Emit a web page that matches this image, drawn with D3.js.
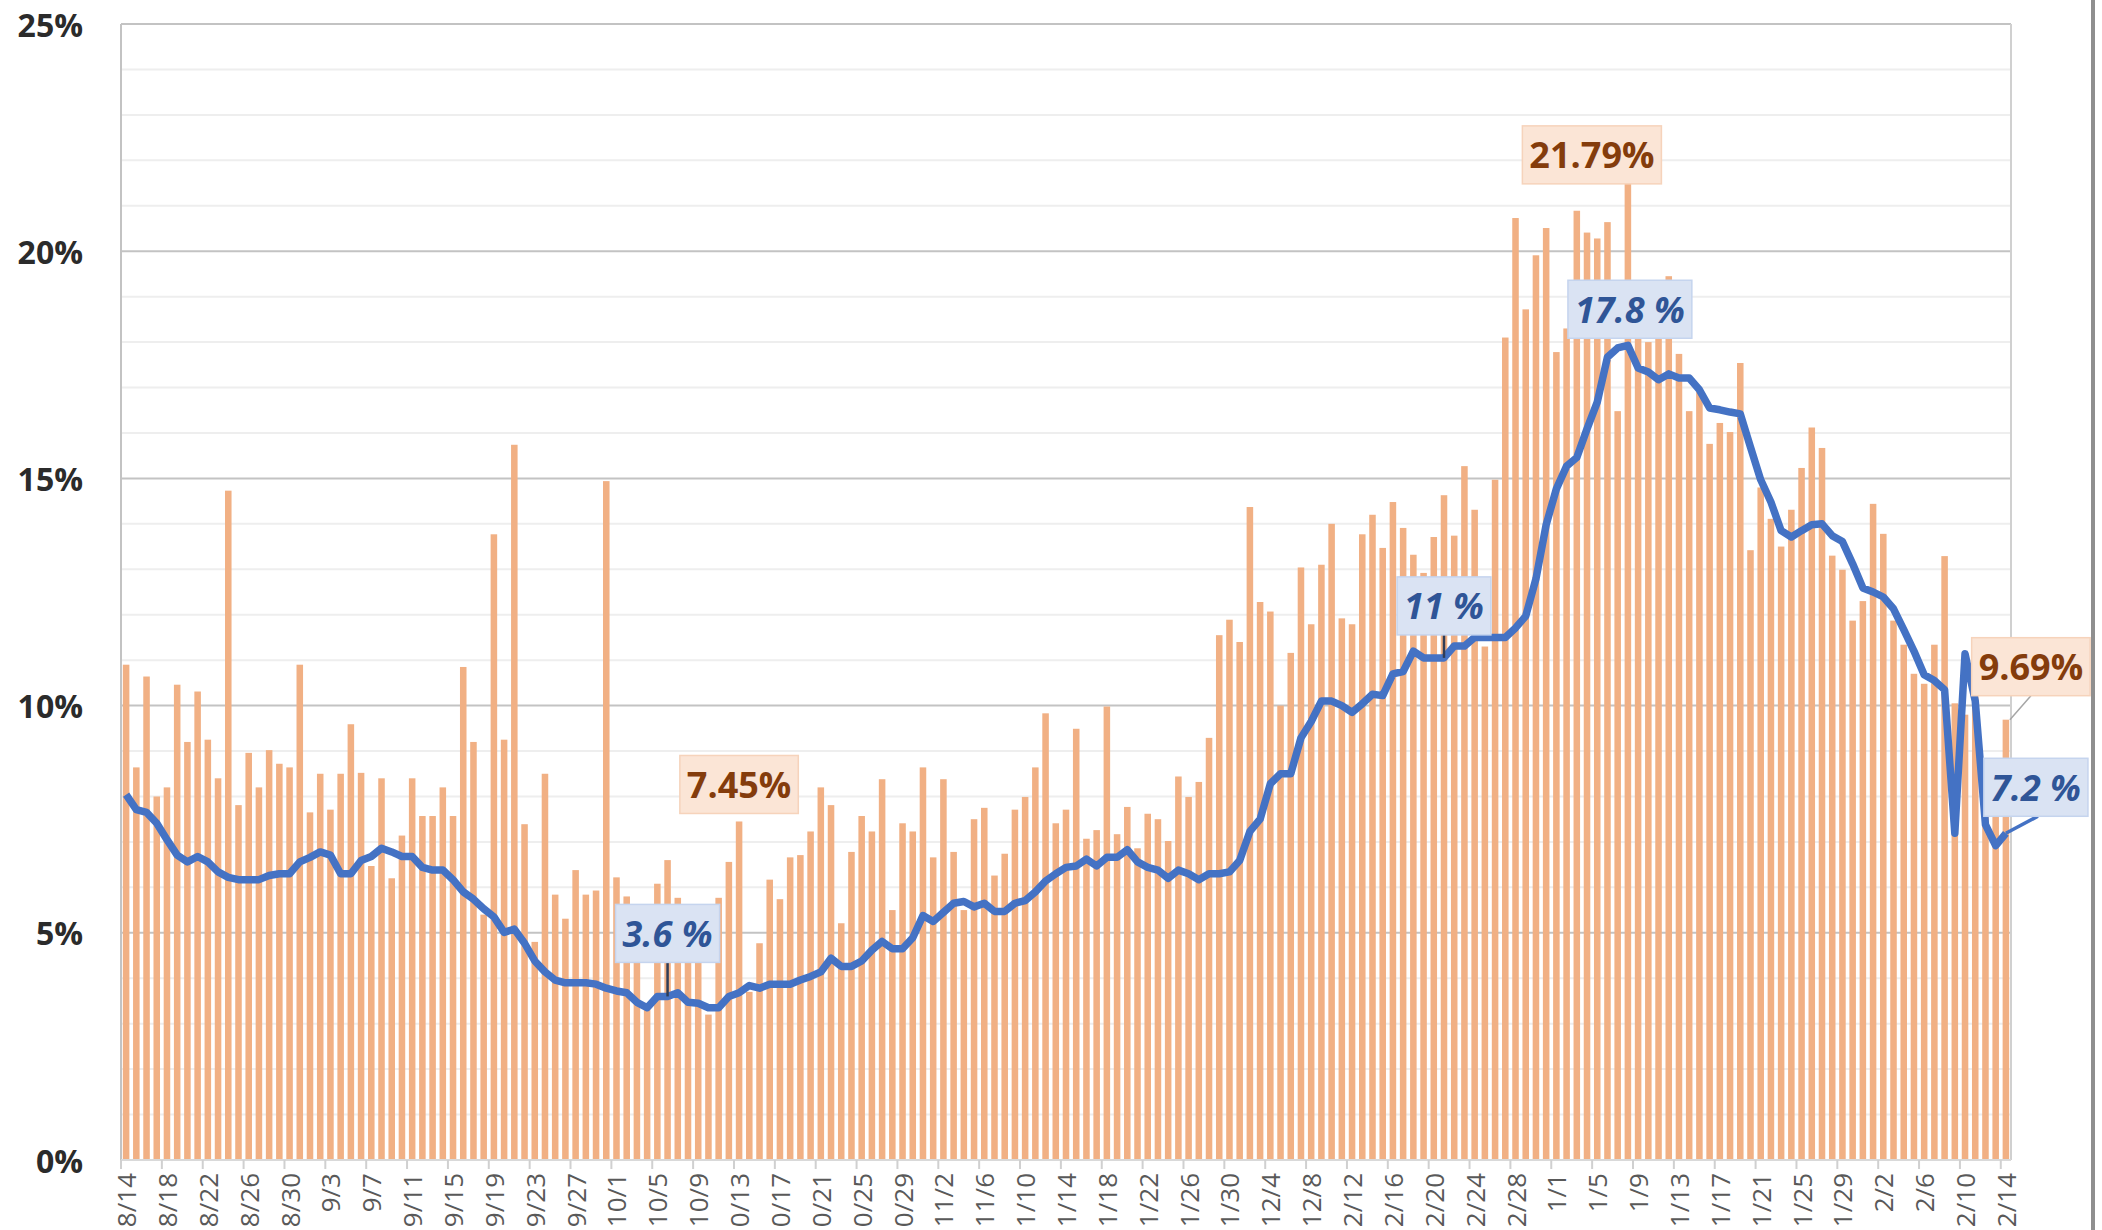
<!DOCTYPE html>
<html>
<head>
<meta charset="utf-8">
<script src="https://cdn.jsdelivr.net/npm/d3@7"></script>
<style>
  body { margin: 0; background: #fff; }
  svg { display: block; font-family: "Open Sans", sans-serif; }
</style>
</head>
<body>
<script>
var width = 2102, height = 1230
var plot = {left: 121, right: 2011, top: 24, bottom: 1160}

// daily positive rate (%), 8/14 .. 2/14
var positiveRate = [
  10.9, 8.64, 10.64, 8.0, 8.2, 10.46, 9.2, 10.31, 9.25, 8.4,
  14.73, 7.81, 8.96, 8.2, 9.02, 8.72, 8.64, 10.9, 7.65, 8.5,
  7.71, 8.5, 9.59, 8.52, 6.47, 8.4, 6.2, 7.14, 8.4, 7.57,
  7.57, 8.2, 7.57, 10.85, 9.2, 5.4, 13.77, 9.25, 15.74, 7.39,
  4.8, 8.5, 5.84, 5.31, 6.38, 5.84, 5.93, 14.94, 6.22, 5.8,
  4.9, 3.3, 6.08, 6.6, 5.77, 5.0, 4.6, 3.2, 5.77, 6.56,
  7.45, 3.7, 4.77, 6.17, 5.74, 6.66, 6.71, 7.23, 8.2, 7.81,
  5.21, 6.78, 7.57, 7.23, 8.38, 5.5, 7.41, 7.23, 8.64, 6.66,
  8.38, 6.78, 5.5, 7.5, 7.75, 6.26, 6.74, 7.71, 7.99, 8.64,
  9.83, 7.41, 7.71, 9.49, 7.07, 7.26, 9.98, 7.17, 7.77, 6.86,
  7.62, 7.5, 7.02, 8.44, 7.99, 8.32, 9.29, 11.55, 11.89, 11.4,
  14.37, 12.28, 12.07, 10.0, 11.16, 13.04, 11.79, 13.1, 14.0, 11.92,
  11.79, 13.77, 14.2, 13.47, 14.48, 13.91, 13.32, 12.92, 13.71, 14.63,
  13.74, 15.27, 14.31, 11.3, 14.97, 18.1, 20.73, 18.72, 19.91, 20.51,
  17.78, 18.3, 20.89, 20.41, 20.28, 20.64, 16.48, 21.79, 18.3, 18.0,
  18.2, 19.45, 17.74, 16.48, 16.9, 15.76, 16.22, 16.02, 17.54, 13.42,
  14.8, 14.11, 13.5, 14.31, 15.23, 16.12, 15.67, 13.3, 12.99, 11.87,
  12.3, 14.44, 13.78, 11.87, 11.34, 10.7, 10.48, 11.34, 13.29, 10.05,
  9.8, 10.5, 8.3, 8.0, 9.69
]

// 7-day rate (%)
var weeklyRate = [
  8.04, 7.71, 7.65, 7.41, 7.05, 6.71, 6.56, 6.68, 6.56, 6.34,
  6.22, 6.17, 6.17, 6.17, 6.26, 6.3, 6.3, 6.56, 6.66, 6.78,
  6.71, 6.3, 6.3, 6.59, 6.68, 6.86, 6.78, 6.68, 6.68, 6.44,
  6.38, 6.38, 6.17, 5.9, 5.74, 5.53, 5.35, 5.01, 5.08, 4.77,
  4.38, 4.14, 3.96, 3.9, 3.9, 3.9, 3.87, 3.78, 3.72, 3.68,
  3.47, 3.35, 3.6, 3.6, 3.68, 3.47, 3.45, 3.35, 3.35, 3.6,
  3.68, 3.84, 3.78, 3.87, 3.87, 3.87, 3.96, 4.04, 4.14, 4.44,
  4.26, 4.26, 4.38, 4.62, 4.81, 4.65, 4.65, 4.89, 5.38, 5.25,
  5.45, 5.65, 5.69, 5.57, 5.65, 5.47, 5.47, 5.65, 5.71, 5.9,
  6.14, 6.3, 6.44, 6.47, 6.62, 6.47, 6.66, 6.66, 6.83, 6.56,
  6.44, 6.38, 6.2, 6.38, 6.3, 6.17, 6.3, 6.3, 6.34, 6.59,
  7.23, 7.5, 8.28, 8.5, 8.5, 9.29, 9.65, 10.1, 10.1, 10.0,
  9.85, 10.04, 10.25, 10.22, 10.7, 10.75, 11.2, 11.05, 11.05, 11.05,
  11.31, 11.31, 11.5, 11.5, 11.5, 11.5, 11.71, 11.97, 12.79, 13.98,
  14.77, 15.27, 15.46, 16.09, 16.68, 17.67, 17.87, 17.93, 17.43, 17.34,
  17.17, 17.3, 17.21, 17.21, 16.95, 16.55, 16.51, 16.46, 16.42, 15.69,
  14.97, 14.48, 13.85, 13.71, 13.85, 13.98, 14.0, 13.74, 13.61, 13.12,
  12.59, 12.5, 12.39, 12.13, 11.67, 11.2, 10.68, 10.55, 10.35, 7.19,
  11.14, 10.1, 7.38, 6.92, 7.19
]

// one category per day
var days = d3.timeDay.range(new Date(2020, 7, 14), new Date(2021, 1, 15))
var categories = days.map(d3.timeFormat("%-m/%-d"))

var yTicks = [0, 5, 10, 15, 20, 25]
var yMinor = d3.range(1, 25).filter(function(v) { return v % 5 != 0 })

// callouts: which series, which day, text, box offset from the point
var callouts = [
  {series: "bar",  day: "1/8",   text: "21.79%", dx: -36, dy: -15, leader: false},
  {series: "line", day: "1/8",   text: "17.8 %", dx: 2,   dy: -36, leader: false},
  {series: "line", day: "12/21", text: "11 %",   dx: 0,   dy: -52, leader: true},
  {series: "line", day: "10/6",  text: "3.6 %",  dx: 0,   dy: -63, leader: true},
  {series: "bar",  day: "10/13", text: "7.45%",  dx: 0,   dy: -37, leader: false},
  {series: "bar",  day: "2/14",  text: "9.69%",  dx: 25,  dy: -53, leader: true},
  {series: "line", day: "2/14",  text: "7.2 %",  dx: 30,  dy: -46, leader: true}
]

var svg = d3.select("body").append("svg")
  .attr("width", width)
  .attr("height", height)

var x = d3.scaleBand()
  .domain(categories)
  .range([plot.left, plot.right])
  .paddingInner(0.36)
  .paddingOuter(0.18)

var y = d3.scaleLinear()
  .domain([0, 25])
  .range([plot.bottom, plot.top])

var bw = x.bandwidth()
var gap = x.step() - bw
function cx(c) { return x(c) + bw / 2 }

// minor grid
svg.append("g").selectAll("line")
  .data(yMinor)
  .enter().append("line")
  .attr("x1", plot.left).attr("x2", plot.right)
  .attr("y1", function(d) { return y(d) }).attr("y2", function(d) { return y(d) })
  .attr("stroke", "#eeeeee")
  .attr("stroke-width", 2)

// major grid (25% line doubles as the top border)
svg.append("g").selectAll("line")
  .data(yTicks.filter(function(v) { return v > 0 }))
  .enter().append("line")
  .attr("x1", plot.left).attr("x2", plot.right)
  .attr("y1", function(d) { return y(d) }).attr("y2", function(d) { return y(d) })
  .attr("stroke", "#c3c3c3")
  .attr("stroke-width", 2)

// plot sides
svg.append("line")
  .attr("x1", plot.left).attr("x2", plot.left)
  .attr("y1", plot.top).attr("y2", plot.bottom)
  .attr("stroke", "#c3c3c3").attr("stroke-width", 2)
svg.append("line")
  .attr("x1", plot.right).attr("x2", plot.right)
  .attr("y1", plot.top).attr("y2", plot.bottom)
  .attr("stroke", "#d0d0d0").attr("stroke-width", 2)

// bars
svg.append("g")
  .selectAll("rect")
  .data(positiveRate)
  .enter().append("rect")
  .attr("x", function(d, i) { return x(categories[i]) })
  .attr("y", function(d) { return y(d) })
  .attr("width", bw)
  .attr("height", function(d) { return y(0) - y(d) })
  .attr("fill", "#f1b084")

// x axis line + ticks
svg.append("line")
  .attr("x1", plot.left).attr("x2", plot.right)
  .attr("y1", y(0)).attr("y2", y(0))
  .attr("stroke", "#d9d9d9").attr("stroke-width", 2)

var labelled = categories.filter(function(c, i) { return i % 4 == 0 })

svg.append("g").selectAll("line")
  .data(labelled)
  .enter().append("line")
  .attr("x1", function(c) { return x(c) - gap / 2 })
  .attr("x2", function(c) { return x(c) - gap / 2 })
  .attr("y1", y(0)).attr("y2", y(0) + 9)
  .attr("stroke", "#d0d0d0").attr("stroke-width", 2)

// labels run off the bottom edge, as in the original
svg.append("g").selectAll("text")
  .data(labelled)
  .enter().append("text")
  .attr("transform", function(c) { return "translate(" + cx(c) + "," + (y(0) + 13) + ") rotate(-90)" })
  .attr("text-anchor", "end")
  .attr("dominant-baseline", "central")
  .attr("font-size", 26)
  .attr("fill", "#595959")
  .text(function(c) { return c })

// y labels
svg.append("g").selectAll("text")
  .data(yTicks)
  .enter().append("text")
  .attr("x", 83)
  .attr("y", function(d) { return y(d) })
  .attr("text-anchor", "end")
  .attr("dominant-baseline", "central")
  .attr("font-size", 32)
  .attr("font-weight", 700)
  .attr("fill", "#2b2b2b")
  .text(function(d) { return d + "%" })

// 7-day line
var line = d3.line()
  .x(function(d, i) { return cx(categories[i]) })
  .y(function(d) { return y(d) })

svg.append("path")
  .datum(weeklyRate)
  .attr("d", line)
  .attr("fill", "none")
  .attr("stroke", "#4472c4")
  .attr("stroke-width", 7.5)
  .attr("stroke-linejoin", "round")

// callouts
var styles = {
  bar:  {fill: "#fbe5d6", stroke: "#f6d3bb", text: "#843c0c", italic: "normal", lead: "#a6a6a6", lw: 1.5},
  line: {fill: "#dae3f3", stroke: "#c5d4ee", text: "#2f5597", italic: "italic", lead: "#2f3d57", lw: 2.5}
}

var g = svg.append("g")
callouts.forEach(function(n) {
  var i = categories.indexOf(n.day)
  var v = n.series == "bar" ? positiveRate[i] : weeklyRate[i]
  var px = cx(n.day), py = y(v)
  var st = styles[n.series]
  var bx = px + n.dx, by = py + n.dy
  var t = g.append("text")
    .attr("x", bx).attr("y", by)
    .attr("text-anchor", "middle")
    .attr("dominant-baseline", "central")
    .attr("font-size", 36)
    .attr("font-weight", 700)
    .attr("font-style", st.italic)
    .attr("fill", st.text)
    .text(n.text)
  var bb = t.node().getBBox()
  var w = bb.width + 14, h = 58
  if (n.leader) {
    var lx = bx, ly = by + h / 2
    var color = st.lead, lw = st.lw
    if (n.series == "line" && n.day == "2/14") { lx = bx + 2; color = "#4472c4"; lw = 3.5 }
    if (n.series == "bar" && n.day == "2/14") { px = px + 4 }
    g.insert("line", "text")
      .attr("x1", lx).attr("y1", ly)
      .attr("x2", px).attr("y2", py)
      .attr("stroke", color).attr("stroke-width", lw)
  }
  g.insert("rect", "text:last-child")
    .attr("x", bx - w / 2).attr("y", by - h / 2)
    .attr("width", w).attr("height", h)
    .attr("fill", st.fill)
    .attr("stroke", st.stroke)
    .attr("stroke-width", 1.5)
})

// outer frame edge on the right
svg.append("line")
  .attr("x1", 2093).attr("x2", 2093)
  .attr("y1", 0).attr("y2", height)
  .attr("stroke", "#8f8f8f").attr("stroke-width", 4)
</script>
</body>
</html>
